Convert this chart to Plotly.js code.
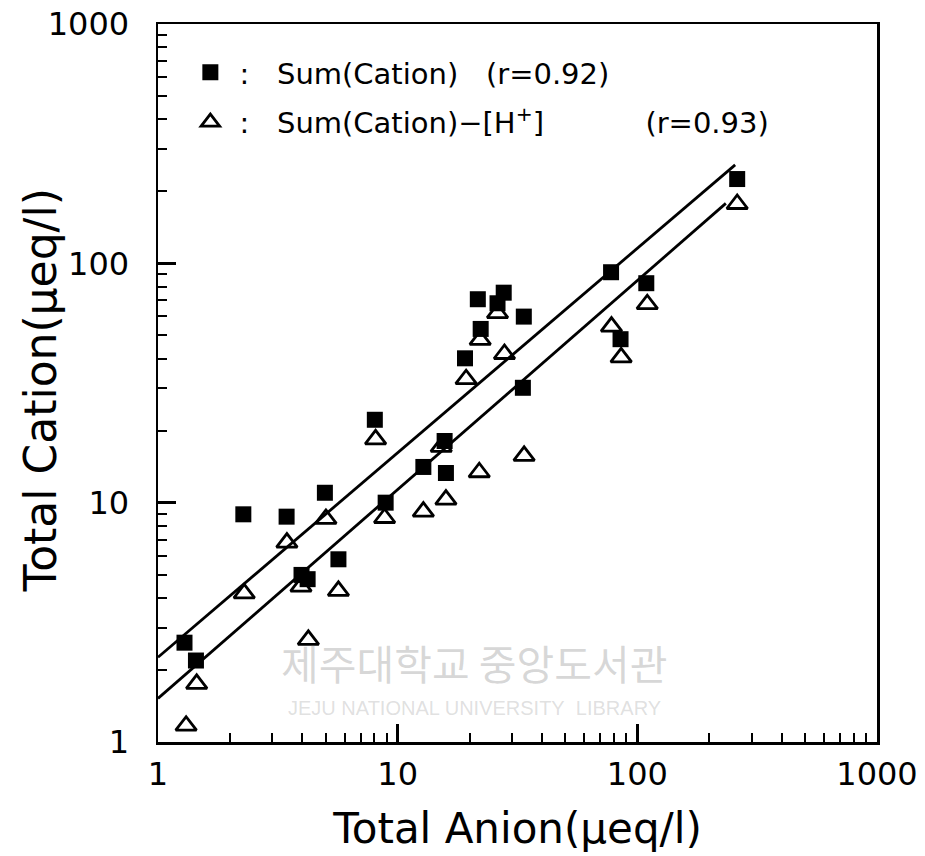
<!DOCTYPE html>
<html>
<head>
<meta charset="utf-8">
<script src="https://cdn.plot.ly/plotly-3.0.1.min.js"></script>
<style>
  html, body { margin: 0; padding: 0; background: #fff; }
  #chart { width: 925px; height: 856px; }
</style>
</head>
<body>
<div id="chart"></div>
<script>
// Sum(Cation) vs Total Anion (µeq/l)
const sumAnionX = [1.29, 1.44, 2.27, 3.44, 4.97, 3.97, 4.21, 5.66, 8.03, 8.91, 12.8, 15.7,
                   15.9, 19.1, 21.6, 22.2, 26.1, 27.7, 33.6, 33.3, 77.7, 85.1, 109, 261];
const sumCationY = [2.60, 2.19, 8.94, 8.74, 11.0, 4.99, 4.79, 5.80, 22.2, 10.0, 14.1, 18.1,
                    13.3, 40.1, 70.8, 53.2, 68.1, 75.4, 59.9, 30.2, 91.8, 48.2, 82.6, 225];

// Sum(Cation) - [H+] vs Total Anion
const hAnionX = [1.31, 1.45, 2.29, 3.45, 3.95, 4.24, 5.02, 5.66, 8.09, 8.82, 12.8, 15.2,
                 15.9, 19.3, 21.9, 22.1, 26.1, 27.9, 33.7, 78.0, 85.6, 110, 261];
const hCationY = [1.17, 1.75, 4.18, 6.81, 4.46, 2.67, 8.55, 4.28, 18.4, 8.63, 9.17, 17.1,
                  10.3, 32.8, 13.4, 47.9, 61.9, 41.8, 15.7, 54.4, 40.5, 67.5, 177];

// Regression lines (end points)
const fitSumX = [1, 256];
const fitSumY = [2.26, 258];
const fitHX = [1, 234];
const fitHY = [1.52, 178];

// Labels
const NB = '\u00a0';
const legendSum = NB + ':' + NB.repeat(3) + 'Sum(Cation)' + NB.repeat(3) + '(r=0.92)';
const legendH = NB + ':' + NB.repeat(3) + 'Sum(Cation)\u2212[H<sup>+</sup>]' + NB.repeat(11) + '(r=0.93)';
const tickVals = [1, 10, 100, 1000];
const tickText = ['1', '10', '100', '1000'];
const xTitle = 'Total Anion(\u03bceq/l)';
const yTitle = 'Total Cation(\u03bceq/l)';
const watermarkKo = '제주대학교 중앙도서관';
const watermarkEn = 'JEJU NATIONAL UNIVERSITY' + NB + NB + 'LIBRARY';

const FONT = 'DejaVu Sans, Liberation Sans, sans-serif';

const traces = [
  {
    x: fitSumX, y: fitSumY, type: 'scatter', mode: 'lines',
    line: { color: '#000', width: 2.8 }, showlegend: false, hoverinfo: 'skip'
  },
  {
    x: fitHX, y: fitHY, type: 'scatter', mode: 'lines',
    line: { color: '#000', width: 2.8 }, showlegend: false, hoverinfo: 'skip'
  },
  {
    x: hAnionX, y: hCationY, type: 'scatter', mode: 'markers', name: legendH,
    legendgroup: 'b', legendrank: 2,
    marker: { symbol: 'triangle-up-open', size: 18, color: '#000', line: { color: '#000', width: 2.8 } }
  },
  {
    x: sumAnionX, y: sumCationY, type: 'scatter', mode: 'markers', name: legendSum,
    legendgroup: 'a', legendrank: 1,
    marker: { symbol: 'square', size: 16, color: '#000', line: { width: 0 } }
  }
];

const axisCommon = {
  type: 'log',
  range: [0, 3],
  tickmode: 'array',
  tickvals: tickVals,
  ticktext: tickText,
  ticks: 'inside',
  ticklen: 18,
  tickwidth: 2.5,
  tickcolor: '#000',
  minor: { ticks: 'inside', ticklen: 9, tickwidth: 2, tickcolor: '#000', dtick: 'D1', showgrid: false },
  showline: true,
  linecolor: '#000',
  linewidth: 2.5,
  mirror: true,
  showgrid: false,
  zeroline: false,
  tickfont: { family: FONT, size: 32, color: '#000' }
};

const layout = {
  width: 925,
  height: 856,
  margin: { l: 158, r: 48, t: 24, b: 114 },
  paper_bgcolor: '#fff',
  plot_bgcolor: '#fff',
  font: { family: FONT, color: '#000' },
  showlegend: true,
  legend: {
    x: 0.045, y: 0.968, xanchor: 'left', yanchor: 'top',
    bgcolor: 'rgba(0,0,0,0)', borderwidth: 0,
    font: { family: FONT, size: 29, color: '#000' },
    traceorder: 'grouped', tracegroupgap: 9
  },
  xaxis: Object.assign({}, axisCommon, {
    ticklabelstandoff: 2,
    title: { text: xTitle, font: { family: FONT, size: 42, color: '#000' }, standoff: 22 }
  }),
  yaxis: Object.assign({}, axisCommon, {
    ticklabelstandoff: 20
  }),
  annotations: [
    { text: yTitle, xref: 'paper', yref: 'paper', x: -0.164, y: 0.49,
      xanchor: 'center', yanchor: 'middle', textangle: -90, showarrow: false,
      font: { family: FONT, size: 44, color: '#000' } },
    { text: watermarkKo, xref: 'paper', yref: 'paper', x: 0.44, y: 0.112,
      xanchor: 'center', yanchor: 'middle', showarrow: false,
      font: { family: 'Noto Sans CJK KR', size: 41, color: 'rgba(150,150,150,0.38)' } },
    { text: watermarkEn, xref: 'paper', yref: 'paper', x: 0.44, y: 0.048,
      xanchor: 'center', yanchor: 'middle', showarrow: false,
      font: { family: 'Liberation Sans', size: 20, color: 'rgba(150,150,150,0.3)' } }
  ]
};

Plotly.newPlot('chart', traces, layout, { displayModeBar: false, staticPlot: true });
</script>
</body>
</html>
